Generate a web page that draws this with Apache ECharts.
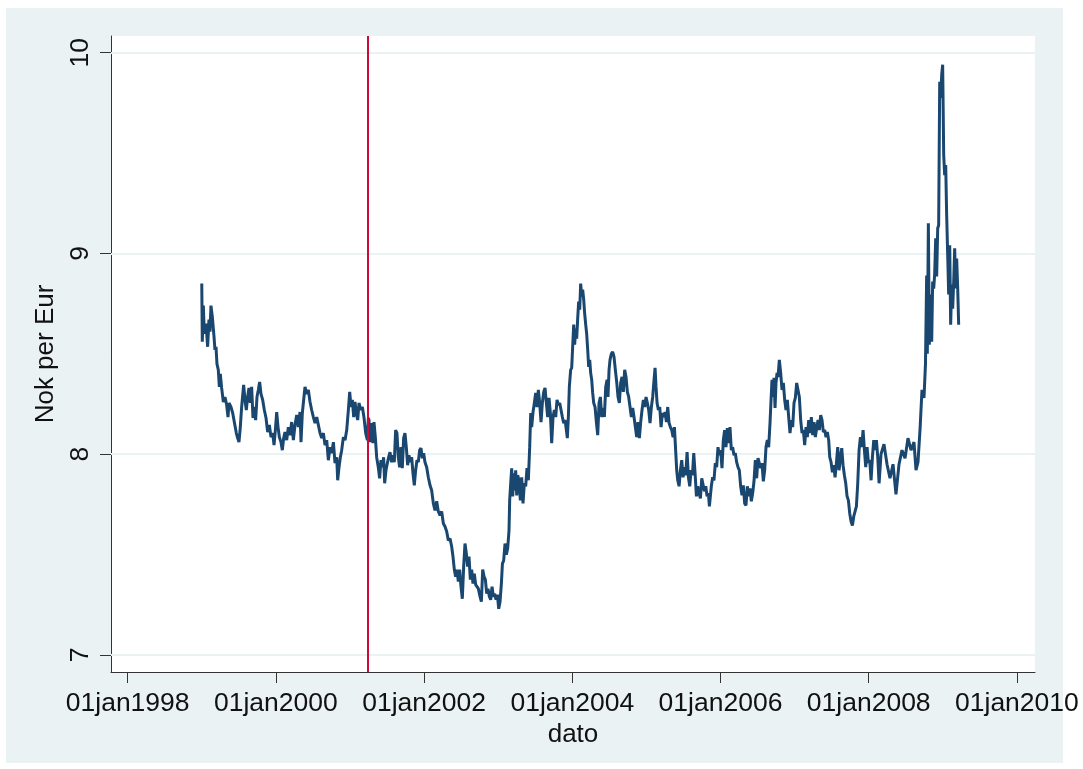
<!DOCTYPE html>
<html>
<head>
<meta charset="utf-8">
<title>Nok per Eur</title>
<script src="https://cdn.jsdelivr.net/npm/echarts@6/dist/echarts.min.js"></script>
<style>
  html, body { margin: 0; padding: 0; background: #fff; }
  #bg { position: absolute; left: 6px; top: 8px; width: 1057px; height: 755px; background: #eaf2f3; }
  #chart { position: absolute; left: 0; top: 0; width: 1083px; height: 769px; }
</style>
</head>
<body>
<div id="bg"></div>
<div id="chart"></div>
<script>
// time in decimal years, value in NOK per EUR

// 1999 - spring 2001
var yearsA = [
  1999.000, 1999.007, 1999.021, 1999.034, 1999.057, 1999.079, 1999.097, 1999.111, 1999.124, 1999.142,
  1999.165, 1999.178, 1999.192, 1999.205, 1999.223, 1999.237, 1999.250, 1999.268, 1999.291, 1999.313,
  1999.336, 1999.354, 1999.367, 1999.394, 1999.417, 1999.439, 1999.466, 1999.484, 1999.502, 1999.520,
  1999.538, 1999.565, 1999.583, 1999.601, 1999.619, 1999.637, 1999.655, 1999.673, 1999.691, 1999.709,
  1999.727, 1999.745, 1999.763, 1999.781, 1999.799, 1999.822, 1999.844, 1999.867, 1999.889, 1999.912,
  1999.934, 1999.957, 1999.975, 1999.993, 2000.011, 2000.029, 2000.047, 2000.069, 2000.087, 2000.105,
  2000.123, 2000.146, 2000.168, 2000.191, 2000.213, 2000.236, 2000.258, 2000.281, 2000.303, 2000.326,
  2000.339, 2000.357, 2000.375, 2000.393, 2000.416, 2000.438, 2000.461, 2000.483, 2000.506, 2000.528,
  2000.551, 2000.573, 2000.596, 2000.618, 2000.641, 2000.663, 2000.686, 2000.708, 2000.731, 2000.753,
  2000.776, 2000.798, 2000.821, 2000.834, 2000.852, 2000.870, 2000.888, 2000.911, 2000.933, 2000.956,
  2000.978, 2000.996, 2001.014, 2001.032, 2001.050, 2001.068, 2001.086, 2001.104, 2001.122, 2001.145,
  2001.167, 2001.190, 2001.212, 2001.235, 2001.248
];
var nokA = [
  8.85, 8.56, 8.74, 8.60, 8.65, 8.535, 8.67, 8.61, 8.74, 8.685,
  8.585, 8.52, 8.535, 8.45, 8.42, 8.335, 8.40, 8.33, 8.26, 8.285,
  8.245, 8.185, 8.255, 8.235, 8.205, 8.16, 8.105, 8.08, 8.06, 8.135,
  8.235, 8.345, 8.27, 8.22, 8.285, 8.33, 8.255, 8.335, 8.18, 8.235,
  8.17, 8.285, 8.32, 8.36, 8.30, 8.27, 8.22, 8.18, 8.11, 8.145,
  8.085, 8.105, 8.045, 8.12, 8.21, 8.135, 8.085, 8.06, 8.02, 8.08,
  8.11, 8.07, 8.135, 8.095, 8.16, 8.07, 8.145, 8.195, 8.135, 8.21,
  8.06, 8.205, 8.27, 8.335, 8.30, 8.32, 8.26, 8.22, 8.185, 8.155,
  8.185, 8.18, 8.105, 8.08, 8.105, 8.045, 8.07, 7.97, 8.035, 8.005,
  8.06, 7.955, 7.985, 7.87, 7.935, 7.985, 8.02, 8.085, 8.07, 8.12,
  8.22, 8.31, 8.235, 8.27, 8.185, 8.26, 8.205, 8.17, 8.255, 8.22,
  8.235, 8.18, 8.105, 8.07, 8.18
];

// spring 2001 - mid 2003
var yearsB = [
  2001.256, 2001.274, 2001.292, 2001.310, 2001.324, 2001.342, 2001.360, 2001.382, 2001.400, 2001.418,
  2001.436, 2001.454, 2001.468, 2001.486, 2001.504, 2001.522, 2001.540, 2001.562, 2001.580, 2001.598,
  2001.616, 2001.634, 2001.652, 2001.670, 2001.688, 2001.706, 2001.724, 2001.742, 2001.760, 2001.778,
  2001.796, 2001.814, 2001.832, 2001.850, 2001.868, 2001.886, 2001.904, 2001.922, 2001.940, 2001.958,
  2001.976, 2001.994, 2002.012, 2002.035, 2002.057, 2002.080, 2002.102, 2002.125, 2002.147, 2002.170,
  2002.192, 2002.215, 2002.237, 2002.260, 2002.282, 2002.305, 2002.327, 2002.350, 2002.372, 2002.390,
  2002.408, 2002.426, 2002.444, 2002.462, 2002.480, 2002.498, 2002.516, 2002.534, 2002.552, 2002.570,
  2002.588, 2002.606, 2002.624, 2002.642, 2002.660, 2002.678, 2002.696, 2002.714, 2002.732, 2002.755,
  2002.773, 2002.791, 2002.809, 2002.827, 2002.845, 2002.863, 2002.881, 2002.899, 2002.917, 2002.935,
  2002.953, 2002.971, 2002.989, 2003.007, 2003.025, 2003.043, 2003.057, 2003.074, 2003.092, 2003.110,
  2003.128, 2003.146, 2003.155, 2003.169, 2003.182, 2003.196, 2003.209, 2003.223, 2003.236, 2003.250,
  2003.263, 2003.281, 2003.299, 2003.317, 2003.335, 2003.353, 2003.371, 2003.389, 2003.407, 2003.425,
  2003.439, 2003.452, 2003.470, 2003.488, 2003.506, 2003.524, 2003.542
];
var nokB = [
  8.17, 8.06, 8.155, 8.055, 8.16, 8.085, 7.985, 7.935, 7.88, 7.97,
  7.935, 7.985, 7.855, 7.92, 7.955, 7.985, 8.01, 7.96, 7.995, 7.96,
  8.12, 8.105, 7.985, 7.935, 8.035, 7.93, 8.08, 8.105, 8.035, 7.945,
  7.995, 7.96, 7.985, 7.905, 7.845, 7.92, 7.97, 7.96, 8.02, 8.03,
  7.98, 8.005, 7.96, 7.935, 7.885, 7.845, 7.82, 7.755, 7.72, 7.765,
  7.715, 7.695, 7.715, 7.655, 7.64, 7.615, 7.57, 7.58, 7.54, 7.49,
  7.425, 7.39, 7.425, 7.365, 7.425, 7.34, 7.28, 7.44, 7.555, 7.505,
  7.44, 7.49, 7.375, 7.425, 7.355, 7.405, 7.35, 7.355, 7.33, 7.29,
  7.265, 7.425, 7.39, 7.375, 7.305, 7.33, 7.29, 7.275, 7.34, 7.29,
  7.305, 7.275, 7.30, 7.23, 7.265, 7.355, 7.455, 7.47, 7.555, 7.50,
  7.53, 7.62, 7.77, 7.855, 7.93, 7.79, 7.905, 7.82, 7.92, 7.795,
  7.895, 7.87, 7.77, 7.885, 7.755, 7.855, 7.84, 7.93, 7.87, 8.035,
  8.205, 8.135, 8.21, 8.255, 8.305, 8.235, 8.32
];

// mid 2003 - late 2005
var yearsC = [
  2003.560, 2003.578, 2003.596, 2003.614, 2003.632, 2003.650, 2003.668, 2003.686, 2003.704, 2003.722,
  2003.740, 2003.758, 2003.776, 2003.794, 2003.812, 2003.830, 2003.848, 2003.866, 2003.884, 2003.902,
  2003.920, 2003.933, 2003.947, 2003.960, 2003.978, 2003.992, 2004.005, 2004.019, 2004.032, 2004.046,
  2004.059, 2004.072, 2004.086, 2004.100, 2004.113, 2004.127, 2004.140, 2004.154, 2004.167, 2004.181,
  2004.194, 2004.208, 2004.221, 2004.235, 2004.248, 2004.262, 2004.275, 2004.289, 2004.307, 2004.325,
  2004.343, 2004.361, 2004.379, 2004.397, 2004.415, 2004.433, 2004.451, 2004.469, 2004.482, 2004.496,
  2004.509, 2004.527, 2004.545, 2004.563, 2004.581, 2004.599, 2004.617, 2004.635, 2004.653, 2004.671,
  2004.689, 2004.707, 2004.725, 2004.743, 2004.761, 2004.779, 2004.797, 2004.815, 2004.833, 2004.851,
  2004.869, 2004.887, 2004.905, 2004.923, 2004.941, 2004.959, 2004.977, 2004.995, 2005.013, 2005.031,
  2005.049, 2005.067, 2005.085, 2005.103, 2005.117, 2005.130, 2005.144, 2005.162, 2005.180, 2005.198,
  2005.216, 2005.234, 2005.252, 2005.270, 2005.288, 2005.306, 2005.324, 2005.342, 2005.360, 2005.378,
  2005.396, 2005.409, 2005.423, 2005.441, 2005.459, 2005.477, 2005.495, 2005.513, 2005.531, 2005.549,
  2005.567, 2005.585, 2005.603, 2005.621, 2005.639, 2005.657, 2005.675, 2005.693, 2005.711, 2005.729,
  2005.747, 2005.765, 2005.783, 2005.801, 2005.819, 2005.837, 2005.850
];
var nokC = [
  8.255, 8.16, 8.255, 8.31, 8.33, 8.255, 8.185, 8.28, 8.205, 8.055,
  8.185, 8.22, 8.185, 8.27, 8.245, 8.255, 8.22, 8.185, 8.155, 8.17,
  8.12, 8.08, 8.185, 8.335, 8.42, 8.43, 8.535, 8.645, 8.545, 8.625,
  8.575, 8.67, 8.76, 8.72, 8.85, 8.785, 8.82, 8.77, 8.70, 8.645,
  8.60, 8.52, 8.435, 8.47, 8.405, 8.37, 8.305, 8.255, 8.235, 8.16,
  8.095, 8.255, 8.285, 8.185, 8.23, 8.185, 8.335, 8.37, 8.285, 8.42,
  8.47, 8.50, 8.51, 8.485, 8.42, 8.36, 8.285, 8.255, 8.355, 8.385,
  8.31, 8.42, 8.385, 8.31, 8.285, 8.235, 8.185, 8.23, 8.185, 8.135,
  8.085, 8.16, 8.08, 8.16, 8.22, 8.27, 8.235, 8.285, 8.255, 8.22,
  8.155, 8.235, 8.285, 8.37, 8.43, 8.335, 8.255, 8.22, 8.235, 8.135,
  8.205, 8.185, 8.21, 8.16, 8.235, 8.155, 8.135, 8.12, 8.085, 8.135,
  8.01, 7.92, 7.87, 7.84, 7.92, 7.97, 7.885, 7.935, 7.895, 8.01,
  7.885, 7.84, 7.92, 7.895, 8.005, 7.905, 7.79, 7.84, 7.805, 7.78,
  7.88, 7.885, 7.815, 7.84, 7.79, 7.805, 7.74
];

// late 2005 - early 2008
var yearsD = [
  2005.876, 2005.894, 2005.912, 2005.930, 2005.948, 2005.966, 2005.984, 2006.002, 2006.020, 2006.038,
  2006.056, 2006.074, 2006.092, 2006.110, 2006.128, 2006.146, 2006.164, 2006.182, 2006.200, 2006.218,
  2006.236, 2006.254, 2006.272, 2006.290, 2006.308, 2006.326, 2006.344, 2006.362, 2006.380, 2006.398,
  2006.416, 2006.434, 2006.452, 2006.470, 2006.488, 2006.506, 2006.524, 2006.542, 2006.560, 2006.578,
  2006.596, 2006.614, 2006.632, 2006.650, 2006.668, 2006.682, 2006.695, 2006.709, 2006.722, 2006.736,
  2006.749, 2006.763, 2006.776, 2006.794, 2006.812, 2006.830, 2006.848, 2006.866, 2006.884, 2006.902,
  2006.920, 2006.938, 2006.956, 2006.974, 2006.992, 2007.010, 2007.028, 2007.046, 2007.064, 2007.082,
  2007.100, 2007.118, 2007.136, 2007.154, 2007.172, 2007.190, 2007.208, 2007.226, 2007.244, 2007.262,
  2007.280, 2007.298, 2007.316, 2007.334, 2007.352, 2007.370, 2007.388, 2007.406, 2007.424, 2007.442,
  2007.460, 2007.474, 2007.492, 2007.510, 2007.528, 2007.546, 2007.564, 2007.582, 2007.600, 2007.618,
  2007.636, 2007.654, 2007.672, 2007.690, 2007.708, 2007.726, 2007.744, 2007.762, 2007.780, 2007.798,
  2007.816, 2007.834, 2007.852, 2007.870, 2007.888, 2007.906, 2007.924, 2007.942, 2007.960, 2007.978,
  2007.996, 2008.014, 2008.032, 2008.050, 2008.068, 2008.086, 2008.104, 2008.122, 2008.140
];
var nokD = [
  7.84, 7.885, 7.87, 7.955, 7.935, 8.035, 7.995, 8.02, 7.93, 8.07,
  8.12, 8.035, 8.13, 8.055, 8.135, 8.02, 8.035, 7.995, 8.005, 7.96,
  7.935, 7.92, 7.84, 7.795, 7.845, 7.755, 7.745, 7.84, 7.79, 7.83,
  7.765, 7.805, 7.865, 7.97, 7.88, 7.98, 7.985, 7.93, 7.955, 7.865,
  7.92, 8.035, 8.07, 8.035, 8.155, 8.27, 8.37, 8.285, 8.38, 8.23,
  8.355, 8.405, 8.385, 8.47, 8.405, 8.32, 8.355, 8.27, 8.22, 8.27,
  8.185, 8.105, 8.17, 8.135, 8.255, 8.28, 8.355, 8.36, 8.285, 8.17,
  8.105, 8.12, 8.045, 8.135, 8.085, 8.17, 8.105, 8.185, 8.095, 8.16,
  8.085, 8.13, 8.17, 8.12, 8.195, 8.17, 8.11, 8.12, 8.085, 8.11,
  8.07, 7.985, 7.96, 7.91, 7.945, 7.885, 7.955, 8.035, 7.92, 7.98,
  8.03, 7.945, 7.895, 7.855, 7.79, 7.77, 7.705, 7.665, 7.645, 7.69,
  7.715, 7.74, 7.855, 8.02, 8.085, 8.035, 8.12, 8.02, 7.935, 8.035,
  7.955, 7.97, 7.87, 7.985, 8.07, 8.02, 8.07, 7.985, 7.855
];

// 2008 - march 2009, the crisis spike
var yearsE = [
  2008.166, 2008.206, 2008.247, 2008.287, 2008.328, 2008.368, 2008.409, 2008.449, 2008.490, 2008.530,
  2008.571, 2008.611, 2008.638, 2008.665, 2008.692, 2008.719, 2008.746, 2008.766, 2008.782, 2008.791,
  2008.805, 2008.818, 2008.836, 2008.850, 2008.863, 2008.877, 2008.890, 2008.904, 2008.917, 2008.931,
  2008.944, 2008.958, 2008.971, 2008.985, 2008.998, 2009.012, 2009.025, 2009.039, 2009.052, 2009.066,
  2009.079, 2009.093, 2009.106, 2009.120, 2009.133, 2009.147, 2009.160, 2009.174, 2009.187, 2009.201, 2009.214
];
var nokE = [
  8.0, 8.05, 7.95, 7.88, 7.95, 7.80, 7.95, 8.02, 7.98, 8.08,
  8.02, 8.06, 7.92, 7.96, 8.12, 8.32, 8.28, 8.45, 8.89, 8.50,
  9.15, 8.545, 8.795, 8.56, 8.86, 8.825, 8.895, 9.075, 8.885, 9.125,
  9.14, 9.855, 9.775, 9.89, 9.94, 9.49, 9.39, 9.44, 9.19, 8.99,
  8.795, 9.04, 8.645, 8.845, 8.725, 8.86, 9.025, 8.825, 8.975, 8.825, 8.645
];

var xTicks = [1998, 2000, 2002, 2004, 2006, 2008, 2010];
var yTicks = [7, 8, 9, 10];
var policyDate = 2001.238; // 29 mar 2001, vertical marker

var years = yearsA.concat(yearsB, yearsC, yearsD, yearsE);
var nok = nokA.concat(nokB, nokC, nokD, nokE);
var lineData = [];
for (var i = 0; i < years.length; i++) {
  lineData.push([years[i], nok[i]]);
}

var font = '"Liberation Sans", Arial, Helvetica, sans-serif';
var ink = '#111';
var axisColor = '#333';

var chart = echarts.init(document.getElementById('chart'), null, { renderer: 'canvas' });

var option = {
  animation: false,
  backgroundColor: 'transparent',
  grid: {
    left: 111,
    top: 36,
    width: 924,
    height: 636,
    outerBoundsMode: 'none',
    containLabel: false,
    show: true,
    backgroundColor: '#ffffff',
    borderWidth: 0
  },
  xAxis: {
    type: 'value',
    min: 1997.775,
    max: 2010.244,
    name: 'dato',
    nameLocation: 'middle',
    nameGap: 48,
    nameTextStyle: { fontSize: 26, color: ink, fontFamily: font },
    axisLine: { show: true, onZero: false, lineStyle: { color: axisColor, width: 1 } },
    axisTick: { show: true, inside: false, length: 11, customValues: xTicks, lineStyle: { color: axisColor, width: 1 } },
    axisLabel: {
      customValues: xTicks,
      margin: 18,
      fontSize: 26.5,
      color: ink,
      fontFamily: font,
      formatter: function (v) { return '01jan' + v; }
    },
    splitLine: { show: false }
  },
  yAxis: {
    type: 'value',
    min: 6.915,
    max: 10.083,
    name: 'Nok per Eur',
    nameLocation: 'middle',
    nameGap: 48,
    nameRotate: 90,
    nameTextStyle: { fontSize: 26, color: ink, fontFamily: font },
    axisLine: { show: true, onZero: false, lineStyle: { color: axisColor, width: 1 } },
    axisTick: { show: true, inside: false, length: 11, customValues: yTicks, lineStyle: { color: axisColor, width: 1 } },
    axisLabel: {
      customValues: yTicks,
      rotate: 90,
      margin: 17,
      fontSize: 26.5,
      color: ink,
      fontFamily: font
    },
    splitLine: { show: false }
  },
  series: [
    {
      // gridlines, kept under the data line
      name: 'grid',
      type: 'line',
      data: [],
      z: 1,
      silent: true,
      markLine: {
        z: 1,
        silent: true,
        symbol: 'none',
        label: { show: false },
        lineStyle: { color: '#eaf2f3', width: 2, type: 'solid' },
        data: yTicks.map(function (v) { return { yAxis: v }; })
      }
    },
    {
      name: 'Nok per Eur',
      type: 'line',
      data: lineData,
      z: 3,
      showSymbol: false,
      symbol: 'none',
      lineStyle: { color: '#1a476f', width: 3 }
    },
    {
      name: 'marker',
      type: 'line',
      data: [],
      z: 6,
      silent: true,
      markLine: {
        z: 6,
        silent: true,
        symbol: 'none',
        label: { show: false },
        lineStyle: { color: '#cc0a3a', width: 2, type: 'solid' },
        data: [{ xAxis: policyDate }]
      }
    }
  ]
};

chart.setOption(option);
</script>
</body>
</html>
